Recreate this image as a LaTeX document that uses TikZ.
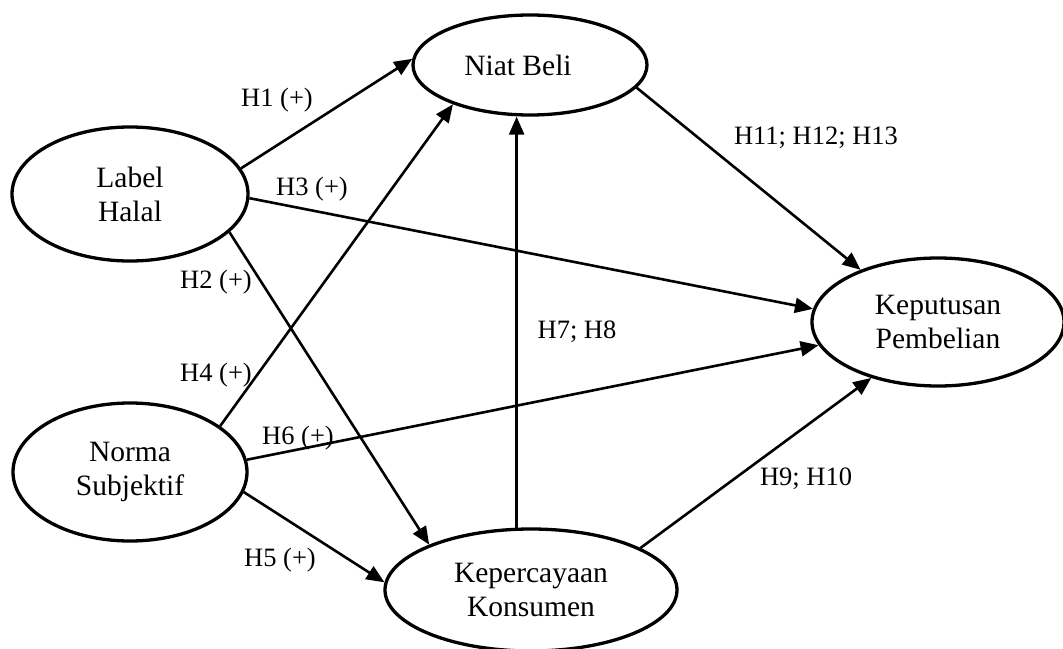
\documentclass[tikz,border=0pt]{standalone}
\usepackage{fontspec}
\setmainfont{Liberation Serif}
\usetikzlibrary{shapes.geometric,arrows.meta}
\begin{document}
\begin{tikzpicture}[x=1pt,y=-1pt,
 ell/.style={draw, ellipse, line width=3.3pt, inner sep=0pt, align=center, font=\fontsize{29.5}{34}\selectfont},
 arr/.style={-{Triangle[length=18pt,width=15pt]}, line width=2.6pt},
 lab/.style={inner sep=0pt, font=\fontsize{26.5}{30}\selectfont}]
\useasboundingbox (0,0) rectangle (1063,648);
\node[ell, minimum width=236pt, minimum height=134pt] (lh) at (130,194) {Label\\Halal};
\node[ell, minimum width=234pt, minimum height=138pt] (ns) at (130,472) {Norma\\Subjektif};
\node[ell, minimum width=234pt, minimum height=100pt] (nb) at (530,65) {\hspace*{-24pt}Niat Beli};
\node[ell, minimum width=292pt, minimum height=122pt] (kk) at (531,590) {Kepercayaan\\Konsumen};
\node[ell, minimum width=252pt, minimum height=128pt] (kp) at (938,322) {Keputusan\\Pembelian};
\draw[arr] (lh.13) -- (nb.177);
\draw[arr] (lh.-21) -- (kk.156);
\draw[arr] (lh.-2) -- (kp.174);
\draw[arr] (ns.27) -- (nb.207);
\draw[arr] (ns.-10) -- (kk.177);
\draw[arr] (ns.6) -- (kp.191);
\draw[arr] (kk.103) -- (kk.103 |- nb.south);
\draw[arr] (kk.21) -- (kp.220);
\draw[arr] (nb.-12) -- (kp.146);
\node[lab] (l1) at (277,100) {H1 (+)};
\node[lab] (l3) at (312,189) {H3 (+)};
\node[lab] (l2) at (216,282) {H2 (+)};
\node[lab] (l4) at (216,375) {H4 (+)};
\node[lab] (l6) at (298,438) {H6 (+)};
\node[lab] (l5) at (280,560) {H5 (+)};
\node[lab] (l11) at (816,138) {H11; H12; H13};
\node[lab] (l7) at (577,332) {H7; H8};
\node[lab] (l9) at (806,479) {H9; H10};
\end{tikzpicture}
\end{document}
